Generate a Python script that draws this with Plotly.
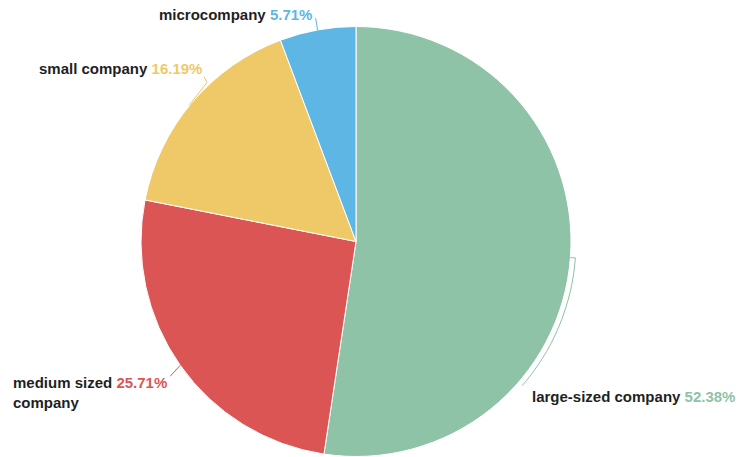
import math
import plotly.graph_objects as go

categories = ["large-sized company", "medium sized company", "small company", "microcompany"]
values = [55, 27, 17, 6]
colors = ["#8fc3a7", "#dc5555", "#efc968", "#5eb6e4"]

W, H = 738, 457
CX, CY, R = 356, 241.5, 215

fig = go.Figure()
fig.add_trace(go.Scatter(x=[], y=[], showlegend=False, hoverinfo="skip"))
fig.add_trace(go.Pie(
    labels=categories, values=values, sort=False, direction="clockwise", rotation=0,
    marker=dict(colors=colors, line=dict(color="white", width=1)),
    textinfo="none", showlegend=False,
    domain=dict(x=[(CX - R) / W, (CX + R) / W], y=[(H - CY - R) / H, (H - CY + R) / H]),
))

total = sum(values)
cum = 0
mids = []
for v in values:
    mids.append((cum + v / 2) / total * 2 * math.pi)
    cum += v

def pt(angle, r):
    return CX + r * math.sin(angle), CY - r * math.cos(angle)

label_pos = {
    "microcompany": (157, 14),
    "small company": (37, 68),
    "medium sized company": (11, 392),
    "large-sized company": (530, 396),
}

for cat, v, col in zip(categories, values, colors):
    pct = f"{v / total * 100:.2f}%"
    x, y = label_pos[cat]
    if cat == "medium sized company":
        txt = f"<b>medium sized</b> <span style='color:{col}'><b>{pct}</b></span><br><b>company</b>"
    else:
        txt = f"<b>{cat}</b> <span style='color:{col}'><b>{pct}</b></span>"
    fig.add_annotation(x=x, y=y, xref="x", yref="y", text=txt, showarrow=False,
                       xanchor="left", yanchor="middle", align="left",
                       font=dict(family="Liberation Sans", size=15, color="#1f1f1f"))

def line_path(points):
    return "M " + " L ".join(f"{px:.1f},{py:.1f}" for px, py in points)

a_large, a_med, a_small, a_micro = mids
ex, ey = pt(a_micro, R)
fig.add_shape(type="path", path=line_path([(ex, ey), (ex - 1, ey - 6), (ex - 2, ey - 12)]),
              line=dict(color=colors[3], width=1))
ex, ey = pt(a_small, R)
fig.add_shape(type="path", path=line_path([(ex - 3, ey + 3), (ex + 15, ey - 20), (ex + 12, ey - 26)]),
              line=dict(color=colors[2], width=1))
ex, ey = pt(a_med, R)
fig.add_shape(type="path", path=line_path([(ex, ey), (ex - 10, ey + 11)]),
              line=dict(color=colors[1], width=1))
arc = [pt(a_large + (math.radians(131) - a_large) * t / 20, R + 5) for t in range(21)]
sx, sy = pt(a_large, R)
fig.add_shape(type="path", path=line_path([(sx, sy)] + arc),
              line=dict(color=colors[0], width=1))

fig.update_layout(
    width=W, height=H, margin=dict(l=0, r=0, t=0, b=0),
    paper_bgcolor="white", plot_bgcolor="rgba(0,0,0,0)",
    xaxis=dict(range=[0, W], visible=False, fixedrange=True),
    yaxis=dict(range=[H, 0], visible=False, fixedrange=True),
)
html = fig.to_html(include_plotlyjs=True, full_html=True, config={"displayModeBar": False})
html = html.replace("<body>", "<body style=\"margin:0;padding:0;overflow:hidden\">", 1)
with open("out.html", "w", encoding="utf-8") as f:
    f.write(html)
